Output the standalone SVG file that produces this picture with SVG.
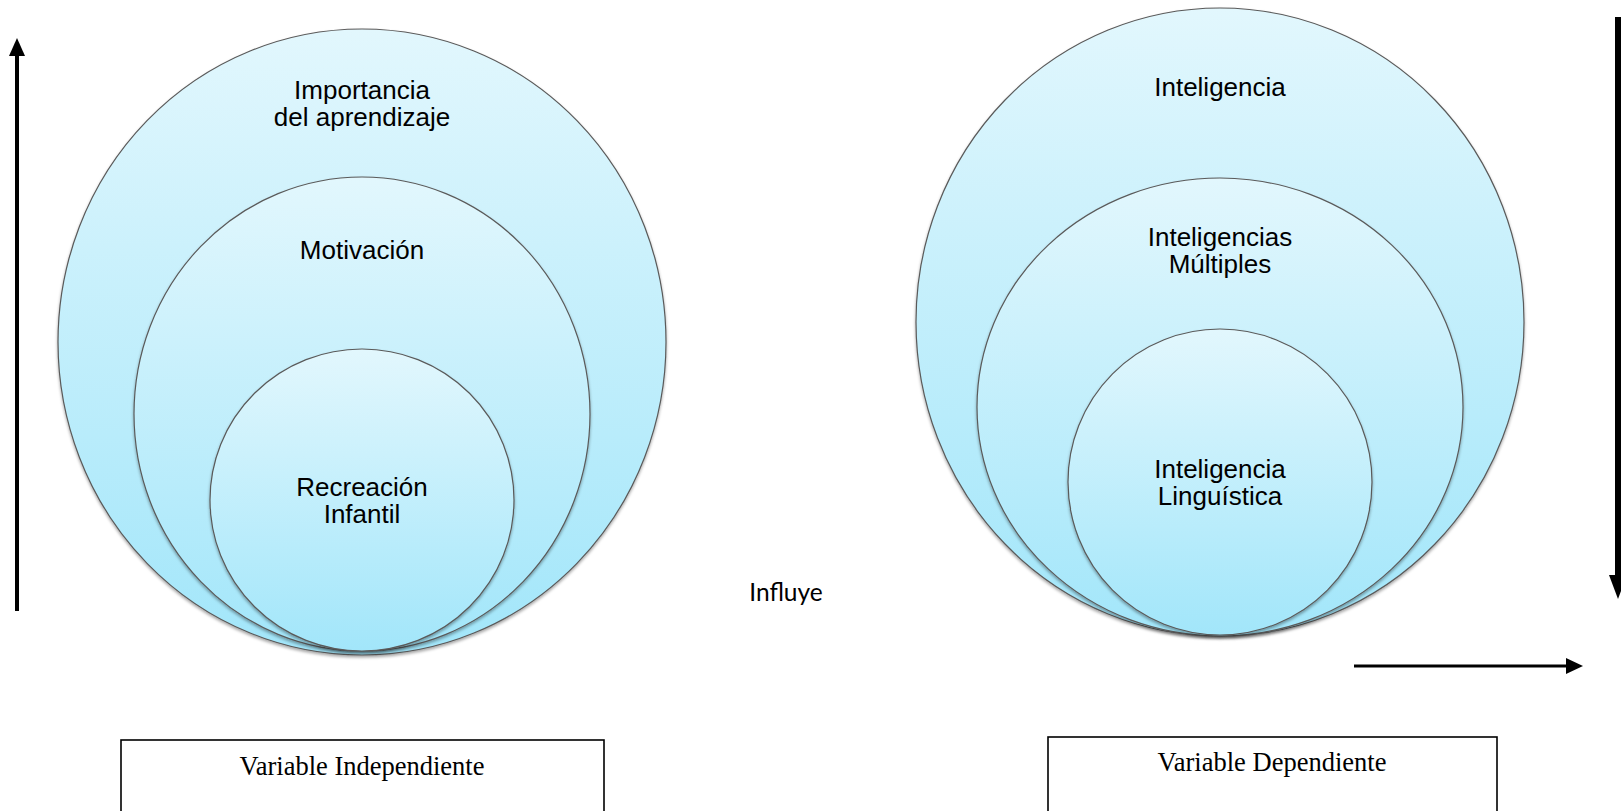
<svg xmlns="http://www.w3.org/2000/svg" width="1621" height="811" viewBox="0 0 1621 811">
<style>
.c{stroke:#5a5a5a;stroke-width:1.2;fill:url(#g)}
.t{font-family:"Liberation Sans",Arial,sans-serif;font-size:26px;fill:#000;text-anchor:middle}
.b{fill:#fff;stroke:#000;stroke-width:1.6}
.s{font-family:"Liberation Serif","Times New Roman",serif;font-size:26.5px;fill:#000;text-anchor:middle}
.ar{stroke:#000;fill:none}
</style>
<defs>
<linearGradient id="g" x1="0" y1="0" x2="0" y2="1">
<stop offset="0" stop-color="#e2f7fd"/>
<stop offset="1" stop-color="#a2e6fa"/>
</linearGradient>
<filter id="sh" x="-10%" y="-10%" width="120%" height="120%">
<feDropShadow dx="0" dy="2" stdDeviation="1.5" flood-color="#000" flood-opacity="0.35"/>
</filter>
</defs>
<rect width="1621" height="811" fill="#fff"/>

<g id="left-outer" filter="url(#sh)"><ellipse class="c" cx="362" cy="342" rx="304" ry="313"/></g>
<g id="left-mid" filter="url(#sh)"><ellipse class="c" cx="362" cy="414" rx="228" ry="237"/></g>
<g id="left-inner" filter="url(#sh)"><ellipse class="c" cx="362" cy="500" rx="152" ry="151"/></g>
<g id="left-labels">
<text class="t" x="362" y="99">Importancia</text>
<text class="t" x="362" y="126">del aprendizaje</text>
<text class="t" x="362" y="259">Motivación</text>
<text class="t" x="362" y="496">Recreación</text>
<text class="t" x="362" y="523">Infantil</text>
</g>

<g id="right-outer" filter="url(#sh)"><ellipse class="c" cx="1220" cy="322" rx="304" ry="314"/></g>
<g id="right-mid" filter="url(#sh)"><ellipse class="c" cx="1220" cy="407" rx="243" ry="229"/></g>
<g id="right-inner" filter="url(#sh)"><ellipse class="c" cx="1220" cy="482" rx="152" ry="153"/></g>
<g id="right-labels">
<text class="t" x="1220" y="96">Inteligencia</text>
<text class="t" x="1220" y="246">Inteligencias</text>
<text class="t" x="1220" y="273">Múltiples</text>
<text class="t" x="1220" y="478">Inteligencia</text>
<text class="t" x="1220" y="505">Linguística</text>
</g>

<g id="influye"><text x="786" y="601" font-family="Lato,'Open Sans',sans-serif" font-size="24.5" text-anchor="middle" fill="#000">Influye</text></g>

<g id="box-independiente">
<rect class="b" x="121" y="740" width="483" height="90"/>
<text class="s" x="362" y="775">Variable Independiente</text>
</g>
<g id="box-dependiente">
<rect class="b" x="1048" y="737" width="449" height="90"/>
<text class="s" x="1272" y="771">Variable Dependiente</text>
</g>

<g id="connectors">
<line class="ar" x1="17" y1="611" x2="17" y2="54" stroke-width="4"/>
<polygon points="17,38 9,56 25,56" fill="#000"/>
<line class="ar" x1="1618" y1="17" x2="1618" y2="578" stroke-width="6"/>
<polygon points="1618,599 1609,575 1627,575" fill="#000"/>
<line class="ar" x1="1354" y1="666" x2="1568" y2="666" stroke-width="3"/>
<polygon points="1583,666 1566,658 1566,674" fill="#000"/>
</g>
</svg>
